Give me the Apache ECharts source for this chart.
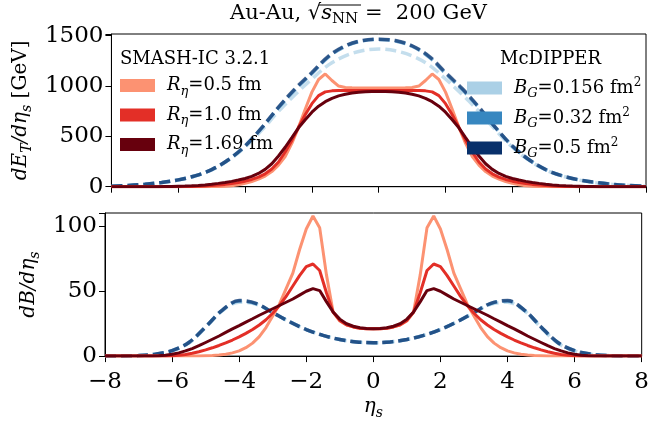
<!DOCTYPE html>
<html><head><meta charset="utf-8">
<script src="https://cdn.jsdelivr.net/npm/echarts@6/dist/echarts.min.js"></script>
<style>html,body{margin:0;padding:0;background:#fff}#c{width:652px;height:421px}</style>
</head><body><div id="c"></div>
<script>
// ---------- data ----------
const etaRed = [-8,-7.8,-7.6,-7.4,-7.2,-7,-6.8,-6.6,-6.4,-6.2,-6,-5.8,-5.6,-5.4,-5.2,-5,-4.8,-4.6,-4.4,-4.2,-4,-3.8,-3.6,-3.4,-3.2,-3,-2.8,-2.6,-2.4,-2.2,-2,-1.8,-1.6,-1.4,-1.2,-1,-0.8,-0.6,-0.4,-0.2,0,0.2,0.4,0.6,0.8,1,1.2,1.4,1.6,1.8,2,2.2,2.4,2.6,2.8,3,3.2,3.4,3.6,3.8,4,4.2,4.4,4.6,4.8,5,5.2,5.4,5.6,5.8,6,6.2,6.4,6.6,6.8,7,7.2,7.4,7.6,7.8,8];
const etaBlue = [-8,-7.5,-7,-6.5,-6,-5.5,-5,-4.5,-4,-3.5,-3,-2.5,-2,-1.5,-1,-0.5,0,0.5,1,1.5,2,2.5,3,3.5,4,4.5,5,5.5,6,6.5,7,7.5,8];

// dE_T/deta_s, SMASH-IC
const eR05 = [0,0,0,0,0,0,0,0,0,0,0,0,0,0,0.5,1,2,5,10,19,33,52,75,105,150,215,300,430,590,770,940,1065,1120,1055,1000,985,982,980,980,980,980,980,980,980,982,985,1000,1055,1120,1065,940,770,590,430,300,215,150,105,75,52,33,19,10,5,2,1,0.5,0,0,0,0,0,0,0,0,0,0,0,0,0,0];
const eR10 = [0,0,0,0,0,0,0,0,0,0,0,1,2,4,7,11,16,23,31,42,55,72,95,128,175,245,345,460,590,715,825,905,942,952,955,955,955,955,955,955,955,955,955,955,955,955,955,952,942,905,825,715,590,460,345,245,175,128,95,72,55,42,31,23,16,11,7,4,2,1,0,0,0,0,0,0,0,0,0,0,0];
const eR169 = [0,0,0,0,0,0,0,0,1,2,4,6,9,13,18,25,33,42,53,66,82,103,132,172,228,305,392,488,585,665,740,800,845,878,902,918,930,938,943,946,947,946,943,938,930,918,902,878,845,800,740,665,585,488,392,305,228,172,132,103,82,66,53,42,33,25,18,13,9,6,4,2,1,0,0,0,0,0,0,0,0];
// dE_T/deta_s, McDIPPER
const eB0156 = [5,12,23,40,66,106,166,262,392,562,748,915,1070,1210,1300,1350,1368,1350,1300,1210,1070,915,748,562,392,262,166,106,66,40,23,12,5];
const eB032 = [5,12,24,42,68,108,170,268,405,585,785,965,1125,1290,1395,1448,1462,1448,1395,1290,1125,965,785,585,405,268,170,108,68,42,24,12,5];
const eB05 = [5,12,24,42,68,108,170,268,405,587,790,975,1135,1298,1400,1452,1466,1452,1400,1298,1135,975,790,587,405,268,170,108,68,42,24,12,5];

// dB/deta_s, SMASH-IC
const bR05 = [0,0,0,0,0,0,0,0,0,0,0,0,0,0,0,0.2,0.4,0.8,1.5,2.5,4,6.5,10,15,22,31,40,52,64,82,98,108,99,63,34,27,24,22.5,21.5,21,21,21,21.5,22.5,24,27,34,63,99,108,98,82,64,52,40,31,22,15,10,6.5,4,2.5,1.5,0.8,0.4,0.2,0,0,0,0,0,0,0,0,0,0,0,0,0,0,0];
const bR10 = [0,0,0,0,0,0,0,0,0,0,0.3,0.7,1.3,2.2,3.4,4.8,6.4,8.2,10.2,12.4,14.8,17.5,20.5,24,28,33,39,46,54,62,69,71,66,49,34,27.5,24.2,22.5,21.5,21,21,21,21.5,22.5,24.2,27.5,34,49,66,71,69,62,54,46,39,33,28,24,20.5,17.5,14.8,12.4,10.2,8.2,6.4,4.8,3.4,2.2,1.3,0.7,0.3,0,0,0,0,0,0,0,0,0,0];
const bR169 = [0,0,0,0,0,0,0,0,0.3,0.7,1.4,2.5,4,5.8,8,10.5,13,15.5,18.3,21,23.5,26.2,28.8,31.5,34,36.5,39,41.5,44,47,50,52,50.5,42,34,28.5,25,23,21.8,21.2,21,21.2,21.8,23,25,28.5,34,42,50.5,52,50,47,44,41.5,39,36.5,34,31.5,28.8,26.2,23.5,21,18.3,15.5,13,10.5,8,5.8,4,2.5,1.4,0.7,0.3,0,0,0,0,0,0,0,0];
// dB/deta_s, McDIPPER
const bB0156 = [0,0.1,0.4,1.4,4,10,22,35,41.5,40,33.5,26.5,20.5,16,12.8,10.9,10.3,10.9,12.8,16,20.5,26.5,33.5,40,41.5,35,22,10,4,1.4,0.4,0.1,0];
const bB032 = [0,0.1,0.4,1.5,4.2,10.5,22.5,35.5,42.5,40.5,33.5,26.5,20.5,16,12.8,10.9,10.3,10.9,12.8,16,20.5,26.5,33.5,40.5,42.5,35.5,22.5,10.5,4.2,1.5,0.4,0.1,0];
const bB05 = [0,0.1,0.4,1.5,4.2,10.5,22.5,35.5,42.8,40.7,33.6,26.5,20.5,16,12.8,10.9,10.3,10.9,12.8,16,20.5,26.5,33.6,40.7,42.8,35.5,22.5,10.5,4.2,1.5,0.4,0.1,0];

const xTicks = [-8,-6,-4,-2,0,2,4,6,8];
const yTicksTop = [0,500,1000,1500];
const yTicksBot = [0,50,100];

const redNames = ['R0.5','R1.0','R1.69'];
const blueNames = ['B0.156','B0.32','B0.5'];
const redColors = ['#fc9272','#e32f27','#67000d'];
const blueColors = ['#abd0e6','#3787c0','#08306b'];
const legendText = {
  'R0.5': '{ip|R}{sub|η}{n|=0.5 fm}',
  'R1.0': '{ip|R}{sub|η}{n|=1.0 fm}',
  'R1.69': '{ip|R}{sub|η}{n|=1.69 fm}',
  'B0.156': '{ip|B}{sub|G}{n|=0.156 fm}{sup|2}',
  'B0.32': '{ip|B}{sub|G}{n|=0.32 fm}{sup|2}',
  'B0.5': '{ip|B}{sub|G}{n|=0.5 fm}{sup|2}'
};

// ---------- chart ----------
const FONT = 'DejaVu Serif';
const pairs = (xs, ys) => xs.map((x, i) => [x, ys[i]]);
const legRich = {
  n: {fontFamily: FONT, fontSize: 18, lineHeight: 22, color: '#000'},
  ip: {fontFamily: FONT, fontSize: 18, fontStyle: 'italic', lineHeight: 22, color: '#000', padding: [0,0,0,7]},
  sub: {fontFamily: FONT, fontSize: 13, fontStyle: 'italic', lineHeight: 13, color: '#000', padding: [12,0,0,0]},
  sup: {fontFamily: FONT, fontSize: 12, lineHeight: 12, color: '#000', padding: [0,0,10,0]}
};
const axRich = {
  n: {fontFamily: FONT, fontSize: 20, lineHeight: 24, color: '#000'},
  i: {fontFamily: FONT, fontSize: 20, fontStyle: 'italic', lineHeight: 24, color: '#000'},
  sub: {fontFamily: FONT, fontSize: 14, fontStyle: 'italic', lineHeight: 14, color: '#000', padding: [12,0,0,0]}
};
const minus = v => (v < 0 ? '\u2212' : '') + Math.abs(v);

function xAxisCfg(idx, showLabels) {
  return {
    type: 'value', gridIndex: idx, min: -8, max: 8, interval: 2,
    axisLine: {show: true, onZero: false, lineStyle: {color: '#000', width: 1}},
    axisTick: {show: true, length: 6, lineStyle: {color: '#000', width: 1}},
    axisLabel: {show: showLabels, margin: 14, fontFamily: FONT, fontSize: 23, color: '#000',
      formatter: v => xTicks.includes(v) ? minus(v) : ''},
    splitLine: {show: false},
    name: showLabels ? '{i|η}{sub|s}' : '', nameLocation: 'middle', nameGap: 30,
    nameTextStyle: {rich: axRich}
  };
}
function yAxisCfg(idx, max, interval, ticks, name, gap) {
  return {
    type: 'value', gridIndex: idx, min: 0, max: max, interval: interval,
    axisLine: {show: true, onZero: false, lineStyle: {color: '#000', width: 1}},
    axisTick: {show: true, length: 6, lineStyle: {color: '#000', width: 1}},
    axisLabel: {margin: 8, fontFamily: FONT, fontSize: 23, color: '#000',
      formatter: v => ticks.includes(v) ? String(v) : ''},
    splitLine: {show: false},
    name: name, nameLocation: 'middle', nameRotate: 90, nameGap: gap,
    nameTextStyle: {rich: axRich}
  };
}

const series = [];
const blueTop = [eB0156, eB032, eB05], blueBot = [bB0156, bB032, bB05];
const redTop = [eR05, eR10, eR169], redBot = [bR05, bR10, bR169];
for (let k = 0; k < 3; k++) {
  [[blueTop[k], 0], [blueBot[k], 1]].forEach(([ys, g]) => series.push({
    name: blueNames[k], type: 'line', xAxisIndex: g, yAxisIndex: g,
    data: pairs(etaBlue, ys), showSymbol: false, symbol: 'none', smooth: 0.35, z: 2 + k * 0.1,
    itemStyle: {color: blueColors[k]},
    lineStyle: {color: blueColors[k], width: 3.5, type: [11, 5], opacity: 0.7}
  }));
}
for (let k = 0; k < 3; k++) {
  [[redTop[k], 0], [redBot[k], 1]].forEach(([ys, g]) => series.push({
    name: redNames[k], type: 'line', xAxisIndex: g, yAxisIndex: g,
    data: pairs(etaRed, ys), showSymbol: false, symbol: 'none', z: 3 + k * 0.1,
    itemStyle: {color: redColors[k]},
    lineStyle: {color: redColors[k], width: 3}
  }));
}

const titleRich = {
  n: {fontFamily: FONT, fontSize: 21, fontWeight: 'normal', lineHeight: 24, color: '#000'},
  i: {fontFamily: FONT, fontSize: 21, fontWeight: 'normal', fontStyle: 'italic', lineHeight: 24, color: '#000'},
  subn: {fontFamily: FONT, fontSize: 15, fontWeight: 'normal', lineHeight: 15, color: '#000', padding: [11,0,0,0]}
};

const chart = echarts.init(document.getElementById('c'), null, {renderer: 'canvas'});
chart.setOption({
  animation: false,
  backgroundColor: '#fff',
  title: [
    {text: '{n|Au-Au, \u221A}{i|s}{subn|NN}{n| =  200 GeV}', left: 230, top: 2, padding: 0,
     textStyle: {fontWeight: 'normal', fontFamily: FONT, rich: titleRich}},
    {text: 'SMASH-IC 3.2.1', left: 120, top: 48, padding: 0,
     textStyle: {fontFamily: FONT, fontSize: 18, fontWeight: 'normal', color: '#000', lineHeight: 22}},
    {text: 'McDIPPER', left: 500, top: 48, padding: 0,
     textStyle: {fontFamily: FONT, fontSize: 18, fontWeight: 'normal', color: '#000', lineHeight: 22}}
  ],
  graphic: [
    {type: 'line', shape: {x1: 319, y1: 5, x2: 361, y2: 5}, style: {stroke: '#000', lineWidth: 1}, z: 100}
  ],
  legend: [
    {data: redNames, orient: 'vertical', left: 120, top: 73, padding: 0, itemWidth: 35, itemHeight: 13, itemGap: 4.5,
     icon: 'rect', itemStyle: {borderWidth: 0}, formatter: n => legendText[n], textStyle: {rich: legRich}, selectedMode: false},
    {data: blueNames, orient: 'vertical', left: 467, top: 75.5, padding: 0, itemWidth: 35, itemHeight: 13, itemGap: 5,
     icon: 'rect', itemStyle: {borderWidth: 0}, formatter: n => legendText[n], textStyle: {rich: legRich}, selectedMode: false}
  ],
  grid: [
    {left: 105, right: 6, top: 34, height: 152.7, show: true, borderColor: '#000', borderWidth: 1, backgroundColor: 'transparent'},
    {left: 105, right: 6, top: 213, height: 150, show: true, borderColor: '#000', borderWidth: 1, backgroundColor: 'transparent'}
  ],
  xAxis: [xAxisCfg(0, false), xAxisCfg(1, true)],
  yAxis: [
    yAxisCfg(0, 1517, 500, yTicksTop, '{i|dE}{sub|T}{i|/dη}{sub|s}{n| [GeV]}', 74),
    yAxisCfg(1, 110.3, 50, yTicksBot, '{i|dB/dη}{sub|s}', 59)
  ],
  series: series
});
</script></body></html>
